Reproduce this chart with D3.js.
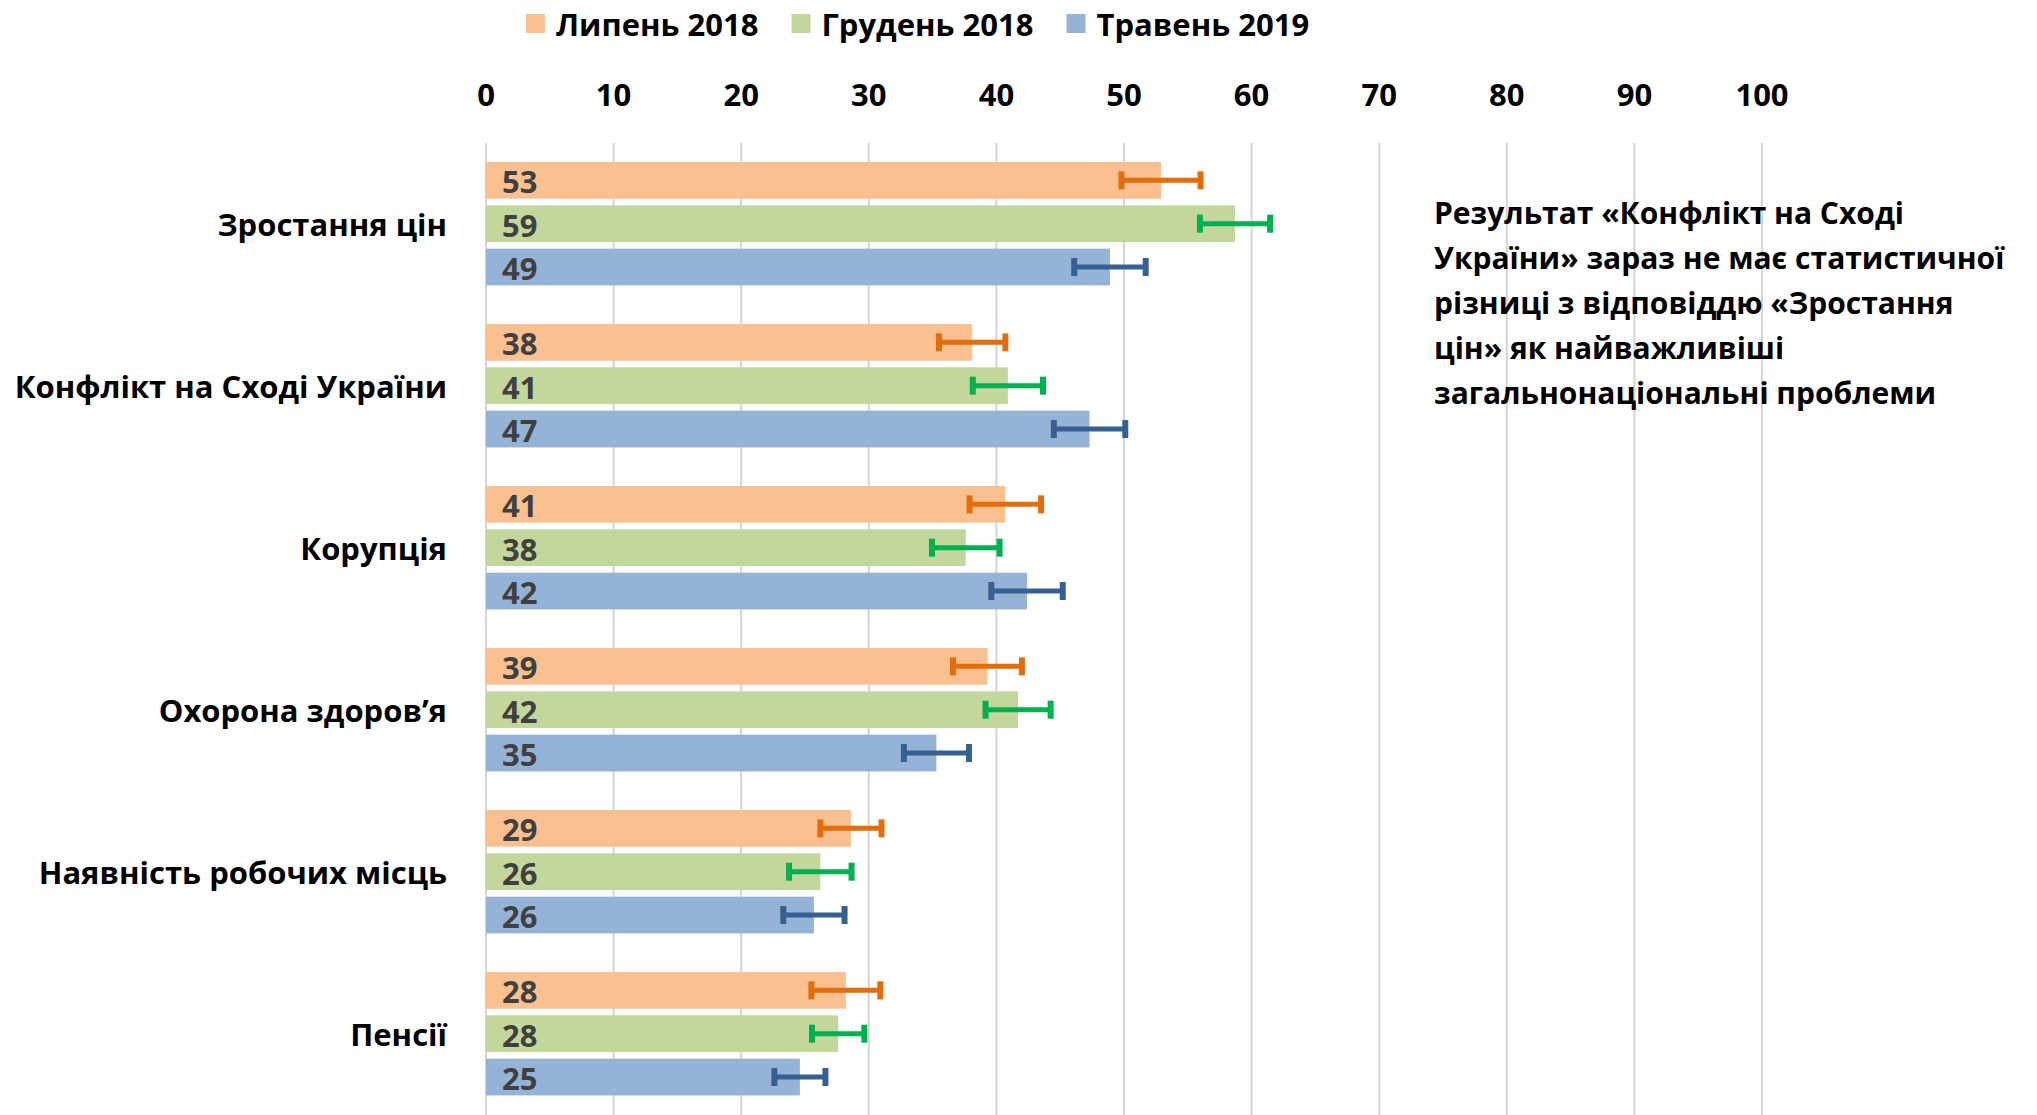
<!DOCTYPE html>
<html>
<head>
<meta charset="utf-8">
<script src="https://cdn.jsdelivr.net/npm/d3@7"></script>
<style>
  body { margin: 0; background: #fff; }
  svg { display: block; }
  text { font-family: "Open Sans", "Noto Sans", sans-serif; font-weight: 700; }
</style>
</head>
<body>
<svg id="chart"></svg>
<script>
// categories, top to bottom
const categories = [
  "Зростання цін",
  "Конфлікт на Сході України",
  "Корупція",
  "Охорона здоров’я",
  "Наявність робочих місць",
  "Пенсії"
];
const seriesNames = ["Липень 2018", "Грудень 2018", "Травень 2019"];

// values (%) and error margins
const july2018 = [52.9, 38.1, 40.7, 39.3, 28.6, 28.2];
const dec2018  = [58.7, 40.9, 37.6, 41.7, 26.2, 27.6];
const may2019  = [48.9, 47.3, 42.4, 35.3, 25.7, 24.6];
const july2018Err = [3.1, 2.6, 2.8, 2.7, 2.4, 2.7];
const dec2018Err  = [2.75, 2.75, 2.65, 2.55, 2.45, 2.05];
const may2019Err  = [2.8, 2.8, 2.8, 2.55, 2.4, 2.0];

const xTicks = [0, 10, 20, 30, 40, 50, 60, 70, 80, 90, 100];

const noteLines = [
  "Результат «Конфлікт на Сході",
  "України» зараз не має статистичної",
  "різниці з відповіддю «Зростання",
  "цін» як найважливіші",
  "загальнонаціональні проблеми"
];

const W = 2037, H = 1115;
const barColors = ["#FAC090", "#C3D69B", "#95B3D7"];
const errColors = ["#E46C0A", "#00B050", "#376092"];

const values = [july2018, dec2018, may2019];
const errors = [july2018Err, dec2018Err, may2019Err];

const svg = d3.select("#chart").attr("width", W).attr("height", H);

const x = d3.scaleLinear().domain([0, 100]).range([486, 1762]);
const y = d3.scaleBand().domain(categories)
  .range([142.7, 1114.7])
  .paddingInner(0.238)
  .paddingOuter(0.119);
const ys = d3.scaleBand().domain(seriesNames)
  .range([0, y.bandwidth()])
  .paddingInner(0.152);

// gridlines
svg.append("g").classed("grid", true)
  .selectAll("line")
  .data(xTicks)
  .enter()
  .append("line")
  .attr("x1", d => x(d)).attr("x2", d => x(d))
  .attr("y1", 143).attr("y2", H)
  .attr("stroke", "#d4d4d4")
  .attr("stroke-width", 2);

// tick labels on top
svg.append("g").classed("ticks", true)
  .selectAll("text")
  .data(xTicks)
  .enter()
  .append("text")
  .attr("x", d => x(d))
  .attr("y", 94)
  .attr("text-anchor", "middle")
  .attr("dominant-baseline", "central")
  .attr("font-size", 31)
  .attr("fill", "#000")
  .text(d => d);

// flatten to bar records
const bars = [];
categories.forEach((c, i) => {
  seriesNames.forEach((s, j) => {
    bars.push({cat: c, series: s, si: j, value: values[j][i], err: errors[j][i]});
  });
});

const g = svg.append("g").classed("bars", true);
const barG = g.selectAll("g")
  .data(bars)
  .enter()
  .append("g")
  .attr("transform", d => `translate(0,${y(d.cat) + ys(d.series)})`);

barG.append("rect")
  .attr("x", x(0))
  .attr("y", 0)
  .attr("width", d => x(d.value) - x(0))
  .attr("height", ys.bandwidth())
  .attr("fill", d => barColors[d.si]);

barG.append("text")
  .attr("x", x(0) + 16)
  .attr("y", ys.bandwidth() / 2 + 1)
  .attr("dominant-baseline", "central")
  .attr("font-size", 31)
  .attr("fill", "#404040")
  .text(d => d3.format(".0f")(d.value));

// error bars
const capH = 18;
barG.append("line")
  .attr("x1", d => x(d.value - d.err))
  .attr("x2", d => x(d.value + d.err))
  .attr("y1", ys.bandwidth() / 2).attr("y2", ys.bandwidth() / 2)
  .attr("stroke", d => errColors[d.si])
  .attr("stroke-width", 5);
[-1, 1].forEach(sign => {
  barG.append("line")
    .attr("x1", d => x(d.value + sign * d.err))
    .attr("x2", d => x(d.value + sign * d.err))
    .attr("y1", ys.bandwidth() / 2 - capH / 2)
    .attr("y2", ys.bandwidth() / 2 + capH / 2)
    .attr("stroke", d => errColors[d.si])
    .attr("stroke-width", 6);
});

// category labels
svg.append("g").classed("cats", true)
  .selectAll("text")
  .data(categories)
  .enter()
  .append("text")
  .attr("x", 447)
  .attr("y", d => y(d) + y.bandwidth() / 2)
  .attr("text-anchor", "end")
  .attr("dominant-baseline", "central")
  .attr("font-size", 31)
  .attr("fill", "#000")
  .text(d => d);

// legend
const legend = svg.append("g").classed("legend", true);
let lx = 526;
seriesNames.forEach((s, i) => {
  legend.append("rect")
    .attr("x", lx).attr("y", 14)
    .attr("width", 19).attr("height", 19)
    .attr("fill", barColors[i]);
  const t = legend.append("text")
    .attr("x", lx + 30).attr("y", 24)
    .attr("dominant-baseline", "central")
    .attr("font-size", 31)
    .attr("fill", "#000")
    .text(s);
  lx += 30 + t.node().getComputedTextLength() + 33;
});

// note on the right
svg.append("g").classed("note", true)
  .selectAll("text")
  .data(noteLines)
  .enter()
  .append("text")
  .attr("x", 1434)
  .attr("y", (d, i) => 212 + i * 45)
  .attr("dominant-baseline", "central")
  .attr("font-size", 30)
  .attr("fill", "#000")
  .text(d => d);
</script>
</body>
</html>
